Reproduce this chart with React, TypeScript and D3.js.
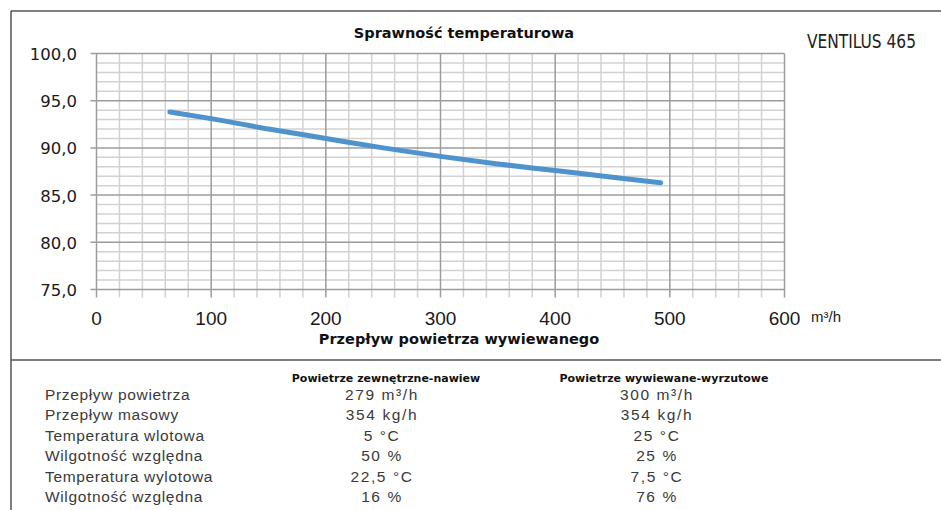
import { useRef, useEffect } from "react";
import * as d3 from "d3";

const flowValues = [64, 100, 150, 200, 250, 300, 350, 400, 450, 492];
const efficiencyValues = [93.8, 93.1, 92.0, 91.0, 90.0, 89.1, 88.3, 87.6, 86.9, 86.3];

const xTicks = [0, 100, 200, 300, 400, 500, 600];
const yTicks = [75, 80, 85, 90, 95, 100];

const rowLabels = [
  "Przepływ powietrza",
  "Przepływ masowy",
  "Temperatura wlotowa",
  "Wilgotność względna",
  "Temperatura wylotowa",
  "Wilgotność względna",
];
const supplyValues = ["279 m³/h", "354 kg/h", "5 °C", "50 %", "22,5 °C", "16 %"];
const exhaustValues = ["300 m³/h", "354 kg/h", "25 °C", "25 %", "7,5 °C", "76 %"];

const W = 941;
const H = 510;

export default function App() {
  const svgRef = useRef<SVGSVGElement>(null);

  useEffect(() => {
    if (!svgRef.current) return;
    const svg = d3.select(svgRef.current);
    svg.selectAll("*").remove();

    const x = d3.scaleLinear().domain([0, 600]).range([96.5, 784.5]);
    const y = d3.scaleLinear().domain([75, 100]).range([289.5, 53.5]);
    const [x0, x1] = x.range();
    const [y0, y1] = y.range();

    // outer frame
    const frame = svg.append("g").attr("stroke", "#555").attr("stroke-width", 1.5);
    frame.append("line").attr("x1", 11).attr("y1", 11).attr("x2", W).attr("y2", 11);
    frame.append("line").attr("x1", 11).attr("y1", 11).attr("x2", 11).attr("y2", H);
    frame.append("line").attr("x1", 11).attr("y1", 360).attr("x2", W).attr("y2", 360);

    const g = svg.append("g");

    // minor grid
    const minorX = d3.range(0, 601, 20).filter((v) => v % 100 !== 0);
    const minorY = d3.range(75, 100.01, 1).filter((v) => v % 5 !== 0);
    g.selectAll("line.mx")
      .data(minorX)
      .join("line")
      .attr("class", "mx")
      .attr("x1", (d) => x(d)).attr("x2", (d) => x(d))
      .attr("y1", y1).attr("y2", y0 + 8)
      .attr("stroke", "#d2d2d2").attr("stroke-width", 1.5);
    g.selectAll("line.my")
      .data(minorY)
      .join("line")
      .attr("class", "my")
      .attr("x1", x0).attr("x2", x1)
      .attr("y1", (d) => y(d)).attr("y2", (d) => y(d))
      .attr("stroke", "#d2d2d2").attr("stroke-width", 1.5);

    // major grid
    g.selectAll("line.MX")
      .data(xTicks)
      .join("line")
      .attr("class", "MX")
      .attr("x1", (d) => x(d)).attr("x2", (d) => x(d))
      .attr("y1", y1).attr("y2", y0 + 8)
      .attr("stroke", "#9c9c9c").attr("stroke-width", 1.5);
    g.selectAll("line.MY")
      .data(yTicks)
      .join("line")
      .attr("class", "MY")
      .attr("x1", x0 - 6).attr("x2", x1)
      .attr("y1", (d) => y(d)).attr("y2", (d) => y(d))
      .attr("stroke", "#9c9c9c").attr("stroke-width", 1.5);

    // y tick labels
    g.selectAll("text.yl")
      .data(yTicks)
      .join("text")
      .attr("class", "yl")
      .attr("x", 77)
      .attr("y", (d) => y(d) + 6.5)
      .attr("text-anchor", "end")
      .attr("fill", "#1a1a1a")
      .style("font-family", "'DejaVu Sans', Verdana, sans-serif")
      .style("font-size", "16.5px")
      .text((d) => d3.format(".1f")(d).replace(".", ","));

    // x tick labels
    g.selectAll("text.xl")
      .data(xTicks)
      .join("text")
      .attr("class", "xl")
      .attr("x", (d) => x(d))
      .attr("y", 325)
      .attr("text-anchor", "middle")
      .attr("fill", "#1a1a1a")
      .style("font-family", "'Liberation Sans', Arial, sans-serif")
      .style("font-size", "19px")
      .text((d) => String(d));

    g.append("text")
      .attr("x", 811).attr("y", 322)
      .attr("fill", "#1a1a1a")
      .style("font-family", "'Liberation Sans', Arial, sans-serif")
      .style("font-size", "15px")
      .text("m³/h");

    // curve
    const pts = flowValues.map((f, i) => [f, efficiencyValues[i]] as [number, number]);
    const line = d3.line<[number, number]>()
      .x((d) => x(d[0]))
      .y((d) => y(d[1]))
      .curve(d3.curveMonotoneX);
    g.append("path")
      .datum(pts)
      .attr("d", line)
      .attr("fill", "none")
      .attr("stroke", "#4f93cd")
      .attr("stroke-width", 5)
      .attr("stroke-linecap", "round");

    // titles
    g.append("text")
      .attr("x", 464).attr("y", 38)
      .attr("text-anchor", "middle")
      .attr("fill", "#111")
      .style("font-family", "'DejaVu Sans', sans-serif")
      .style("font-weight", "bold")
      .style("font-size", "14.5px")
      .text("Sprawność temperaturowa");
    g.append("text")
      .attr("x", 459).attr("y", 344)
      .attr("text-anchor", "middle")
      .attr("fill", "#111")
      .style("font-family", "'DejaVu Sans', sans-serif")
      .style("font-weight", "bold")
      .style("font-size", "14.5px")
      .text("Przepływ powietrza wywiewanego");
    g.append("text")
      .attr("x", 807).attr("y", 48)
      .attr("fill", "#222")
      .attr("textLength", 109)
      .attr("lengthAdjust", "spacingAndGlyphs")
      .style("font-family", "'DejaVu Sans Condensed', 'Liberation Sans Narrow', sans-serif")
      .style("font-size", "20px")
      .text("VENTILUS 465");

    // table
    const t = svg.append("g")
      .style("font-family", "'Liberation Sans', Arial, sans-serif");
    t.append("text")
      .attr("x", 386).attr("y", 382)
      .attr("text-anchor", "middle")
      .attr("fill", "#111")
      .style("font-family", "'DejaVu Sans', sans-serif")
      .style("font-weight", "bold")
      .style("font-size", "11px")
      .text("Powietrze zewnętrzne-nawiew");
    t.append("text")
      .attr("x", 664).attr("y", 382)
      .attr("text-anchor", "middle")
      .attr("fill", "#111")
      .style("font-family", "'DejaVu Sans', sans-serif")
      .style("font-weight", "bold")
      .style("font-size", "11px")
      .text("Powietrze wywiewane-wyrzutowe");

    const rowY = d3.scaleLinear().domain([0, 5]).range([400, 502]);
    const cell = { fill: "#3a3a3a", size: "15.5px" };
    t.selectAll("text.rl")
      .data(rowLabels)
      .join("text")
      .attr("class", "rl")
      .attr("x", 45)
      .attr("y", (_d, i) => rowY(i))
      .attr("fill", cell.fill)
      .style("font-size", cell.size)
      .style("letter-spacing", "0.65px")
      .text((d) => d);
    t.selectAll("text.sv")
      .data(supplyValues)
      .join("text")
      .attr("class", "sv")
      .attr("x", 382)
      .attr("y", (_d, i) => rowY(i))
      .attr("text-anchor", "middle")
      .attr("fill", cell.fill)
      .style("font-size", cell.size)
      .style("letter-spacing", "1.6px")
      .text((d) => d);
    t.selectAll("text.ev")
      .data(exhaustValues)
      .join("text")
      .attr("class", "ev")
      .attr("x", 657)
      .attr("y", (_d, i) => rowY(i))
      .attr("text-anchor", "middle")
      .attr("fill", cell.fill)
      .style("font-size", cell.size)
      .style("letter-spacing", "1.6px")
      .text((d) => d);
  }, []);

  return (
    <svg
      ref={svgRef}
      width={W}
      height={H}
      style={{ position: "absolute", left: 0, top: 0, background: "#fff" }}
    />
  );
}
